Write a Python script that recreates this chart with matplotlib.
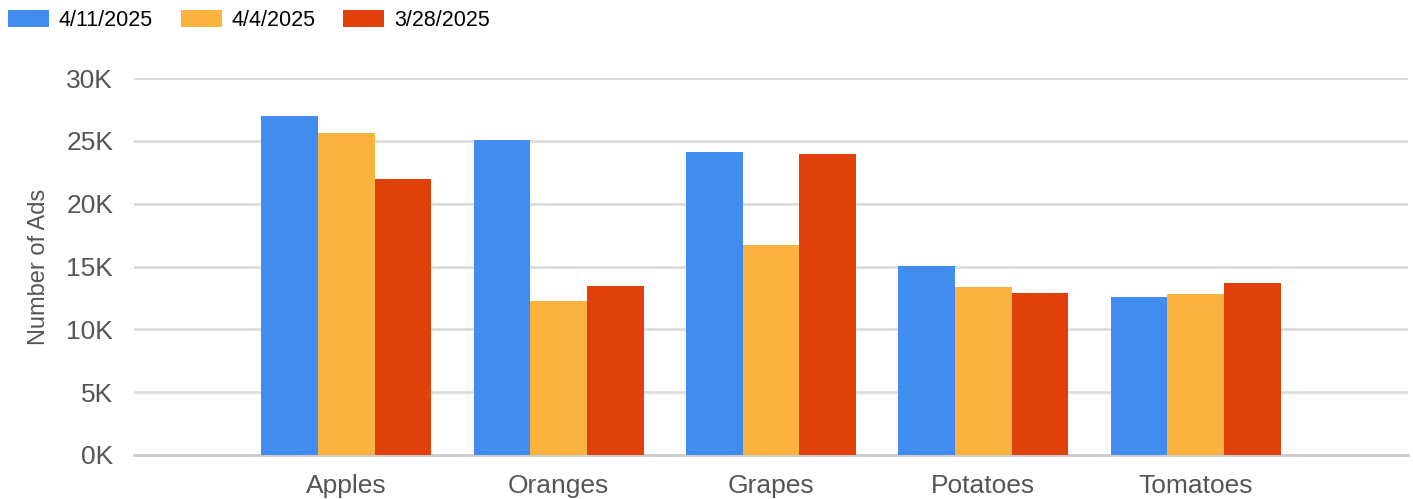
import numpy as np
import matplotlib
matplotlib.use("Agg")
import matplotlib.pyplot as plt
from matplotlib.ticker import FuncFormatter

categories = ["Apples", "Oranges", "Grapes", "Potatoes", "Tomatoes"]
series_names = ["4/11/2025", "4/4/2025", "3/28/2025"]
apr11 = [27000, 25100, 24100, 15050, 12550]
apr4 = [25600, 12250, 16750, 13400, 12850]
mar28 = [22000, 13450, 23950, 12900, 13700]
colors = ["#428CEF", "#FBB340", "#E0400A"]

plt.rcParams["font.family"] = ["Liberation Sans", "DejaVu Sans"]

fig = plt.figure(figsize=(14.13, 4.99), dpi=100)
ax = fig.add_axes([134 / 1413, 44 / 499, (1408 - 134) / 1413, (455 - 78) / 499])

x = np.arange(len(categories))
width = 0.8 / 3
for i, (name, vals) in enumerate(zip(series_names, [apr11, apr4, mar28])):
    ax.bar(x + (i - 1) * width, vals, width, color=colors[i], label=name, zorder=3)

ax.set_xlim(-1, len(categories))
ax.set_ylim(0, 30000)
ax.set_yticks(np.arange(0, 30001, 5000))
ax.yaxis.set_major_formatter(FuncFormatter(lambda v, p: f"{int(v / 1000)}K"))
ax.set_xticks(x)
ax.set_xticklabels(categories)
ax.tick_params(axis="both", length=0, labelsize=19, labelcolor="#555555")
ax.tick_params(axis="y", pad=15)
ax.tick_params(axis="x", pad=14)
ax.grid(axis="y", color="#dddddd", linewidth=2, zorder=0)
for s in ["top", "right", "left"]:
    ax.spines[s].set_visible(False)
ax.spines["bottom"].set_color("#cccccc")
ax.spines["bottom"].set_linewidth(2)
ax.set_ylabel("Number of Ads", fontsize=17, color="#555555", labelpad=12)

fig.legend(loc="upper left", bbox_to_anchor=(8 / 1413, 1 - 10 / 499), ncol=3, frameon=False,
           fontsize=15.5, handlelength=1.9, handleheight=0.84, handletextpad=0.45,
           columnspacing=1.3, borderpad=0, borderaxespad=0)

fig.savefig("out.png", dpi=100)
